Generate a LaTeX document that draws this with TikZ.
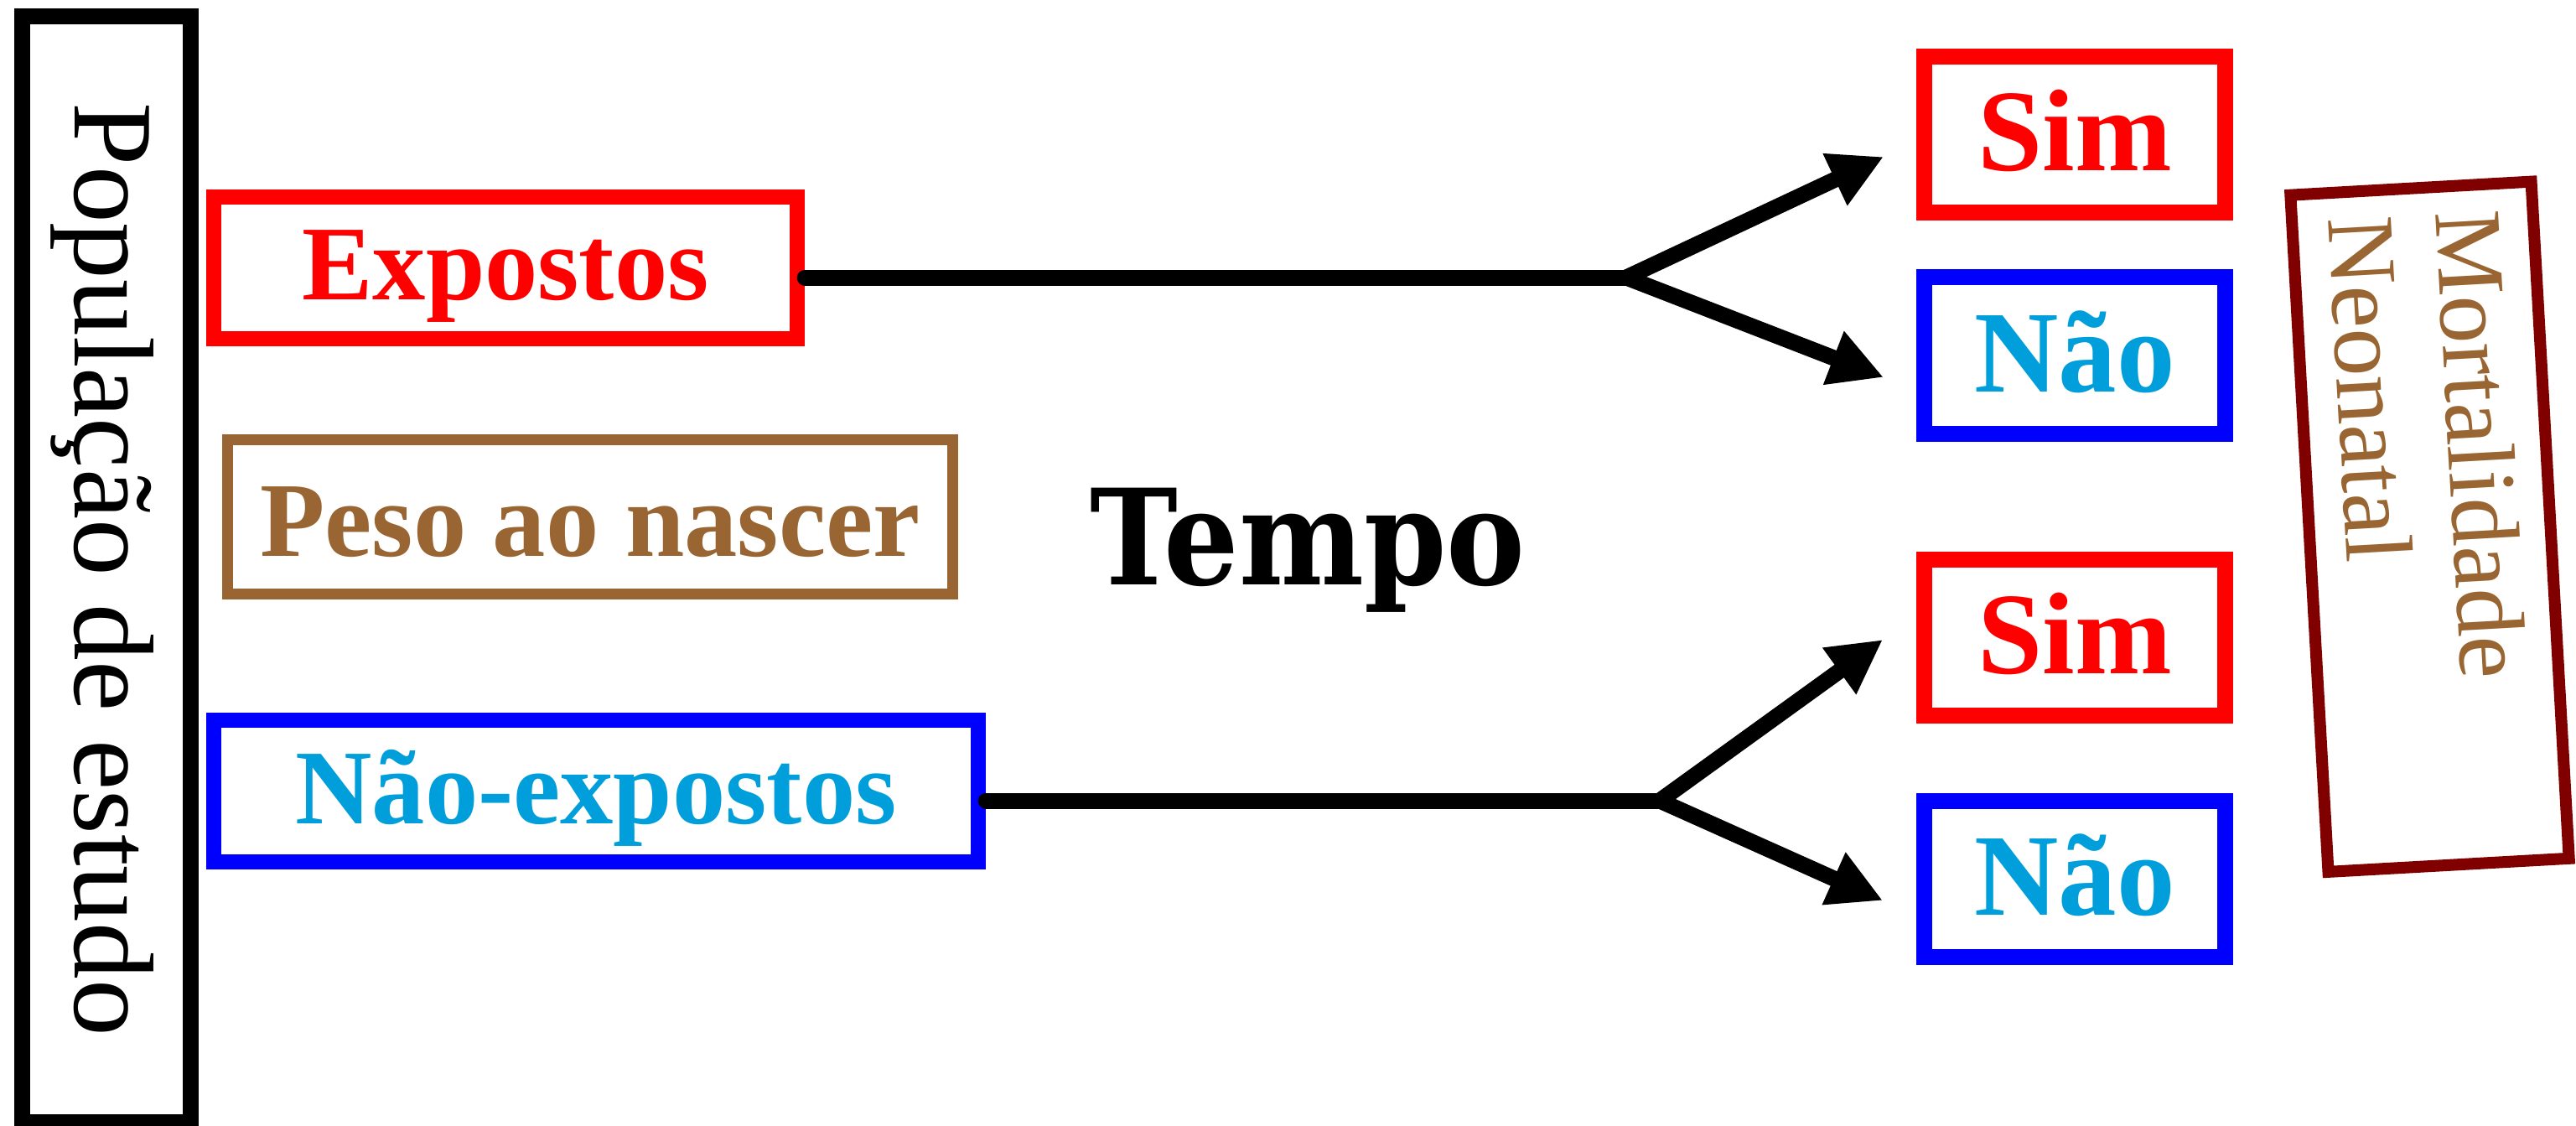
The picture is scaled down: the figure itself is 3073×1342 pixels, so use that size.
\documentclass[tikz,border=0pt]{standalone}
\usepackage{fontspec}
\setmainfont{Liberation Serif}
\newfontfamily\slabfont[FakeStretch=0.89]{DejaVu Serif}
\usetikzlibrary{arrows.meta,calc}
\definecolor{boxred}{HTML}{FF0000}
\definecolor{boxblue}{HTML}{0000FF}
\definecolor{txtblue}{HTML}{009FDB}
\definecolor{earth}{HTML}{996633}
\definecolor{wine}{HTML}{800000}
\begin{document}
\begin{tikzpicture}[x=0.01cm, y=-0.01cm,
  box/.style={draw, rectangle, inner sep=0pt, text depth=0pt},
  bigtxt/.style={font=\fontsize{36}{43}\selectfont\bfseries},
  answer/.style={box, line width=0.19cm, minimum width=3.59cm, minimum height=1.86cm,
                 text height=0.86cm, font=\fontsize{39.5}{47}\selectfont\bfseries},
  yes/.style={answer, draw=boxred, text=boxred},
  no/.style={answer, draw=boxblue, text=txtblue},
  conn/.style={line width=0.19cm, line cap=round, line join=round},
  flow/.style={conn, -{Triangle[length=0.64cm,width=0.64cm]}},
  mtxt/.style={font=\fontsize{32.5}{38}\selectfont, text=earth, rotate=-86.8, inner sep=0pt, anchor=base west},
  ]
\useasboundingbox (0,0) rectangle (3073,1342);

% study population (vertical label)
\node[draw=black, line width=0.19cm, rotate=-90, minimum width=13.185cm, minimum height=2.01cm,
      inner sep=0pt, text height=0.74cm, text depth=0pt, font=\fontsize{38.5}{46}\selectfont]
      (pop) at (127,679.25) {População de estudo};

% exposure groups
\node[box, draw=boxred, line width=0.185cm, minimum width=6.955cm, minimum height=1.685cm,
      text=boxred, bigtxt, text height=0.75cm] (exp) at (603,319.5) {Expostos};
\node[box, draw=earth, line width=0.128cm, minimum width=8.65cm, minimum height=1.84cm,
      text=earth, bigtxt, text height=0.93cm] (peso) at (704,616.5) {Peso ao nascer};
\node[box, draw=boxblue, line width=0.185cm, minimum width=9.115cm, minimum height=1.685cm,
      text=txtblue, bigtxt, text height=0.77cm] (nexp) at (711,943.5) {Não-expostos};

% time axis label
\node[font=\slabfont\fontsize{45}{54}\selectfont\bfseries, anchor=base, inner sep=0pt]
      (tempo) at (1560,697) {Tempo};

% outcomes
\node[yes] (sim1) at (2475,160.5) {Sim};
\node[no]  (nao1) at (2475,424) {Não};
\node[yes] (sim2) at (2475,760.5) {Sim};
\node[no]  (nao2) at (2475,1048.5) {Não};

% outcome frame
\node[draw=wine, line width=0.14cm, minimum width=2.875cm, minimum height=8.08cm,
      rotate=3.2, inner sep=0pt] (mort) at (2898.5,628.25) {};
\begin{scope}[shift={(mort.center)}, rotate=3.2]
  \node[mtxt] (mort1) at (27.6,-375) {Mortalidade};
  \node[mtxt] (mort2) at (-100.5,-375) {Neonatal};
\end{scope}

% follow-up branches
\coordinate (b1) at (1940,331);
\coordinate (t1) at (2247,187);
\coordinate (t2) at (2247,450);
\coordinate (b2) at (1980,955);
\coordinate (t3) at (2246,763);
\coordinate (t4) at (2246,1074);

\draw[conn] (exp.east |- b1) -- (b1);
\draw[flow] (b1) -- (t1);
\draw[flow] (b1) -- (t2);
\draw[conn] (nexp.east |- b2) -- (b2);
\draw[flow] (b2) -- (t3);
\draw[flow] (b2) -- (t4);
\end{tikzpicture}
\end{document}
